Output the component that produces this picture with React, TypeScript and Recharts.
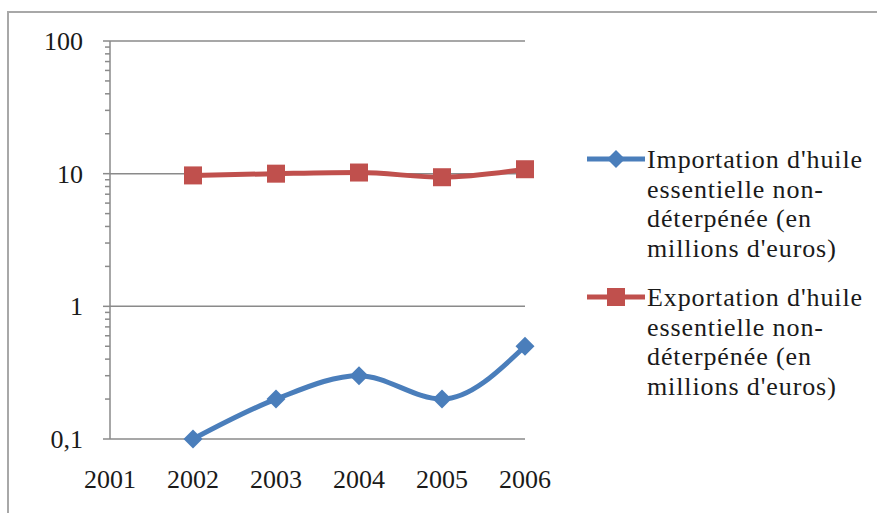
import { LineChart, Line, XAxis, YAxis, ReferenceLine, Legend } from 'recharts';

const years = ['2001', '2002', '2003', '2004', '2005', '2006'];
const importation = [null, 0.1, 0.2, 0.3, 0.2, 0.5];
const exportation = [null, 9.7, 10.0, 10.2, 9.4, 10.8];

const majorTicks = [0.1, 1, 10, 100];
const minorTicks = [
  0.2, 0.3, 0.4, 0.5, 0.6, 0.7, 0.8, 0.9,
  2, 3, 4, 5, 6, 7, 8, 9,
  20, 30, 40, 50, 60, 70, 80, 90,
];
const gridLines = [1, 10, 100];

const importLabel = "Importation d'huile essentielle non-déterpénée (en millions d'euros)";
const exportLabel = "Exportation d'huile essentielle non-déterpénée (en millions d'euros)";
const seriesOrder = ['importation', 'exportation'];

const data = years.map((year, i) => ({
  year,
  importation: importation[i],
  exportation: exportation[i],
}));

const BLUE = '#4a7ebb';
const RED = '#c0504d';
const GRID = '#8a8a8a';
const FONT = '"Liberation Serif", serif';

const Diamond = (props: any) => {
  const { cx, cy } = props;
  if (cx == null || cy == null || props.value == null) return null;
  const r = 9.5;
  return <polygon points={`${cx},${cy - r} ${cx + r},${cy} ${cx},${cy + r} ${cx - r},${cy}`} fill={BLUE} />;
};

const Square = (props: any) => {
  const { cx, cy } = props;
  if (cx == null || cy == null || props.value == null) return null;
  return <rect x={cx - 9} y={cy - 9} width={18} height={18} fill={RED} />;
};

const YTick = (props: any) => {
  const { x, y, payload } = props;
  const major = majorTicks.includes(payload.value);
  return (
    <g>
      <line x1={x - (major ? 7 : 5)} x2={x} y1={y} y2={y} stroke={GRID} strokeWidth={1.5} />
      {major && (
        <text x={x - 27} y={y + 9} textAnchor="end" fontFamily={FONT} fontSize={26} fill="#1a1a1a">
          {String(payload.value).replace('.', ',')}
        </text>
      )}
    </g>
  );
};

const LegendBox = (props: any) => {
  const items = [...(props.payload || [])].sort(
    (a: any, b: any) => seriesOrder.indexOf(a.dataKey) - seriesOrder.indexOf(b.dataKey)
  );
  return (
    <div style={{ fontFamily: FONT, fontSize: 26, lineHeight: '29.5px', color: '#1a1a1a', letterSpacing: 0.9 }}>
      {items.map((it: any) => (
        <div key={it.dataKey} style={{ display: 'flex', alignItems: 'flex-start', marginBottom: 20 }}>
          <svg width={62} height={30} style={{ flex: 'none' }}>
            <line x1={2} x2={60} y1={14} y2={14} stroke={it.color} strokeWidth={5} />
            {it.dataKey === 'importation' ? (
              <polygon points="31,5 40,14 31,23 22,14" fill={it.color} />
            ) : (
              <rect x={22} y={5} width={18} height={18} fill={it.color} />
            )}
          </svg>
          <div style={{ width: 232 }}>{it.value}</div>
        </div>
      ))}
    </div>
  );
};

const App = () => {
  return (
    <div style={{ position: 'absolute', left: 0, top: 0, width: 877, height: 513, background: '#fff', overflow: 'hidden' }}>
      <div style={{ position: 'absolute', left: 7, top: 11, width: 900, height: 600, border: '2px solid #a8a8a8' }} />
      <div style={{ position: 'absolute', left: 0, top: 0 }}>
        <LineChart width={877} height={513} data={data} margin={{ top: 41, right: 352, bottom: 44, left: 50 }}>
          {gridLines.map((v) => (
            <ReferenceLine key={v} y={v} stroke={GRID} strokeWidth={1.5} />
          ))}
          <XAxis
            dataKey="year"
            height={30}
            axisLine={{ stroke: GRID, strokeWidth: 1.5 }}
            tickLine={false}
            tickSize={0}
            tickMargin={31}
            interval={0}
            tick={{ fontFamily: FONT, fontSize: 26, fill: '#1a1a1a' }}
          />
          <YAxis
            scale="log"
            type="number"
            domain={[0.1, 100]}
            ticks={[...majorTicks, ...minorTicks].sort((a, b) => a - b)}
            interval={0}
            width={60}
            tickSize={0}
            tickMargin={0}
            tickLine={false}
            axisLine={{ stroke: GRID, strokeWidth: 1.5 }}
            tick={<YTick />}
          />
          <Legend
            layout="vertical"
            align="center"
            verticalAlign="middle"
            content={<LegendBox />}
            wrapperStyle={{ left: 585, top: 145, width: 300 }}
          />
          <Line
            dataKey="importation"
            name={importLabel}
            type="monotone"
            stroke={BLUE}
            strokeWidth={5}
            dot={<Diamond />}
            activeDot={false}
            isAnimationActive={false}
          />
          <Line
            dataKey="exportation"
            name={exportLabel}
            type="monotone"
            stroke={RED}
            strokeWidth={5}
            dot={<Square />}
            activeDot={false}
            isAnimationActive={false}
          />
        </LineChart>
      </div>
    </div>
  );
};

export default App;
